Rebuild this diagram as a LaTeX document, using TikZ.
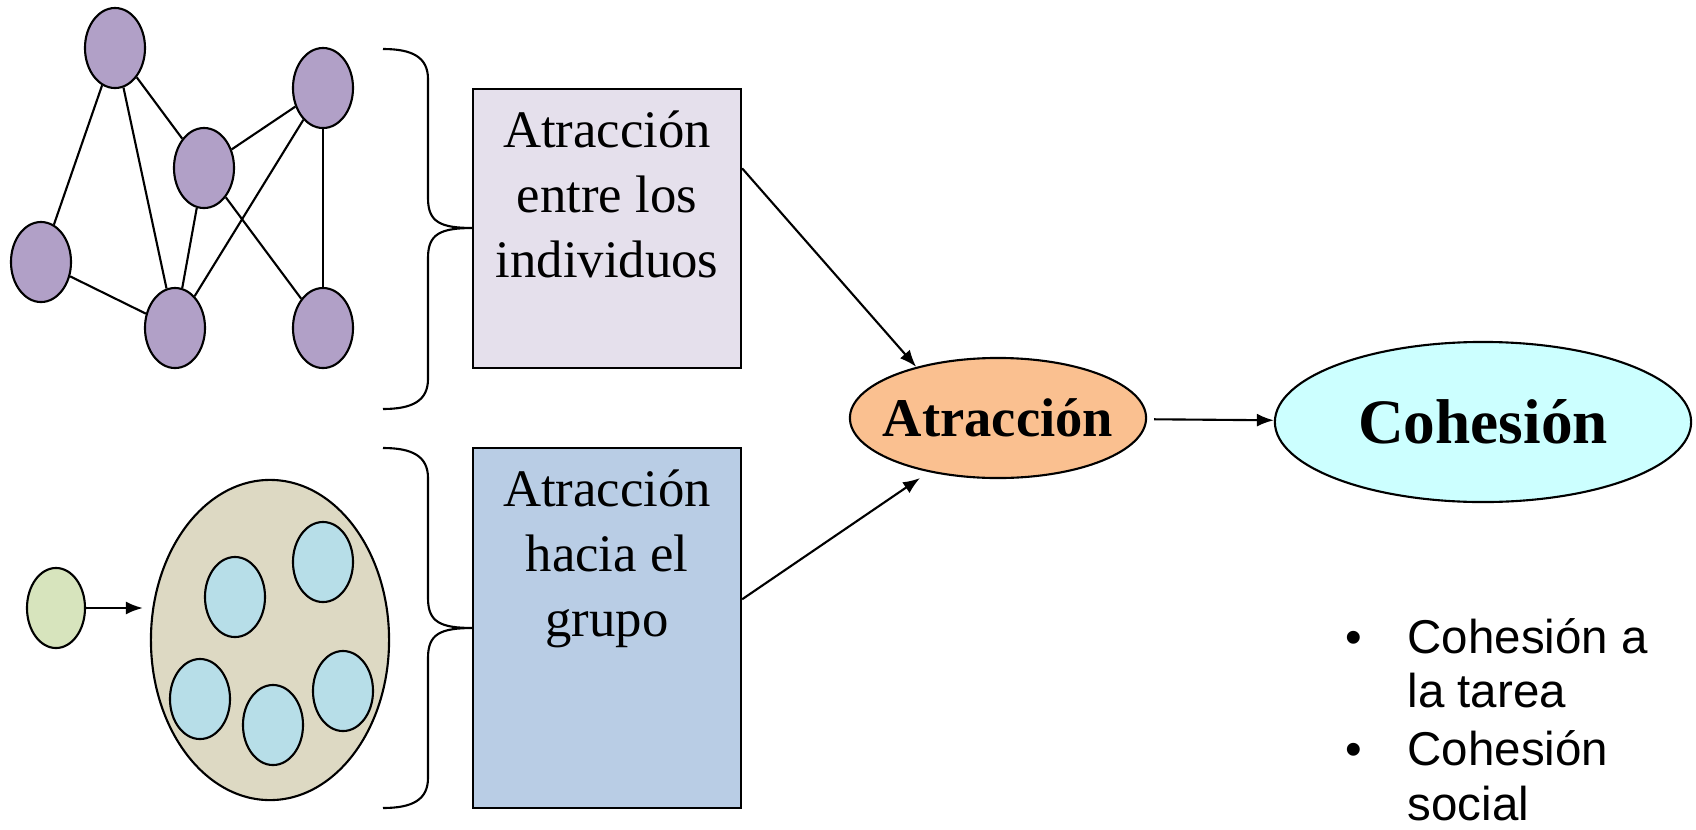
\documentclass[tikz,border=0pt]{standalone}
\usepackage{fontspec}
\setmainfont{Liberation Serif}
\newfontfamily\arialfont{Liberation Sans}
\usetikzlibrary{shapes.geometric, positioning, arrows.meta}

\definecolor{lila}{HTML}{B1A0C7}
\definecolor{lavanda}{HTML}{E5E0EC}
\definecolor{azulgris}{HTML}{B9CDE5}
\definecolor{verde}{HTML}{D7E4BD}
\definecolor{arena}{HTML}{DDD9C3}
\definecolor{celeste}{HTML}{B7DEE8}
\definecolor{salmon}{HTML}{FAC090}
\definecolor{cian}{HTML}{CCFFFF}

\tikzstyle{persona} = [ellipse, draw, fill=lila, minimum width = 0.6cm, minimum height = 0.8cm, inner sep = 0]
\tikzstyle{miembro} = [ellipse, draw, fill=celeste, minimum width = 0.6cm, minimum height = 0.8cm, inner sep = 0]
\tikzstyle{caja} = [rectangle, draw, minimum width = 2.68cm]
\tikzstyle{cajatxt} = [align = center, inner sep = 0, font = \fontsize{15}{18.5}\selectfont]
\tikzstyle{flecha} = [-{Latex[length=0.17cm, width=0.13cm]}]

\begin{document}
\begin{tikzpicture}[x = 0.01cm, y = -0.01cm, line width = 0.6pt]
  \useasboundingbox (0, 0) rectangle (1696, 830);
  % red de individuos
  \foreach \i/\x/\y in {1/115/48, 2/323/88, 3/204/168, 4/41/262, 5/175/328, 6/323/328} {
    \node[persona] (p\i) at (\x, \y) {};
  }
  \foreach \a/\b in {1/4, 1/5, 1/3, 3/2, 3/5, 3/6, 2/5, 2/6, 4/5} {
    \draw (p\a) -- (p\b);
  }
  % el grupo y el que llega
  \node[ellipse, draw, fill=arena, minimum width = 2.38cm, minimum height = 3.2cm] (g) at (270, 640) {};
  \foreach \i/\x/\y in {1/235/597, 2/323/562, 3/200/699, 4/273/725, 5/343/691} {
    \node[miembro] (m\i) at (\x, \y) {};
  }
  \node[ellipse, draw, fill=verde, minimum width = 0.58cm, minimum height = 0.8cm, inner sep = 0] (n) at (56, 608) {};
  \draw[flecha, shorten >= 2pt] (n) -- (n -| g.west);
  % llaves
  \foreach \t/\m/\b in {49/228/409, 448/628/808} {
    \draw (383, \t) .. controls (412, \t) and (428, \t + 8) .. (428, \t + 30)
      -- (428, \m - 30) .. controls (428, \m - 6) and (440, \m) .. (473, \m)
      .. controls (440, \m) and (428, \m + 6) .. (428, \m + 30)
      -- (428, \b - 30) .. controls (428, \b - 8) and (412, \b) .. (383, \b);
  }
  % cajas
  \node[caja, fill=lavanda, minimum height = 2.79cm] (indiv) at (607, 228.5) {};
  \node[cajatxt, below = 0.22cm of indiv.north] (indivtxt) {Atracción\\entre los\\individuos};
  \node[caja, fill=azulgris, minimum height = 3.6cm] (grupo) at (607, 628) {};
  \node[cajatxt, below = 0.22cm of grupo.north] (grupotxt) {Atracción\\hacia el\\grupo};
  % atraccion y cohesion
  \node[ellipse, draw, fill=salmon, minimum width = 2.96cm, minimum height = 1.2cm, inner sep = 0,
    inner xsep = -0.2cm, font = \bfseries\fontsize{15.5}{18}\selectfont] (attr) at (998, 418) {Atracción};
  \node[ellipse, draw, fill=cian, minimum width = 4.16cm, minimum height = 1.6cm, inner sep = 0,
    font = \bfseries\fontsize{18}{22}\selectfont] (cohes) at (1483, 422) {Cohesión};
  \draw[flecha] (indiv.24) -- (attr.148);
  \draw[flecha, shorten >= 3pt] (grupo.12) -- (attr.218);
  \draw[flecha, shorten <= 2pt] (attr) -- (cohes);
  % tipos de cohesion
  \node[anchor = base west, inner sep = 0, font = \arialfont\fontsize{13.5}{15.5}\selectfont] (tipos) at (1344, 653) {%
    \begin{tabular}[t]{@{}l@{\hspace{0.46cm}}l@{}}
      •&Cohesión a\\
      &la tarea\\[1pt]
      •&Cohesión\\
      &social
    \end{tabular}};
\end{tikzpicture}
\end{document}
